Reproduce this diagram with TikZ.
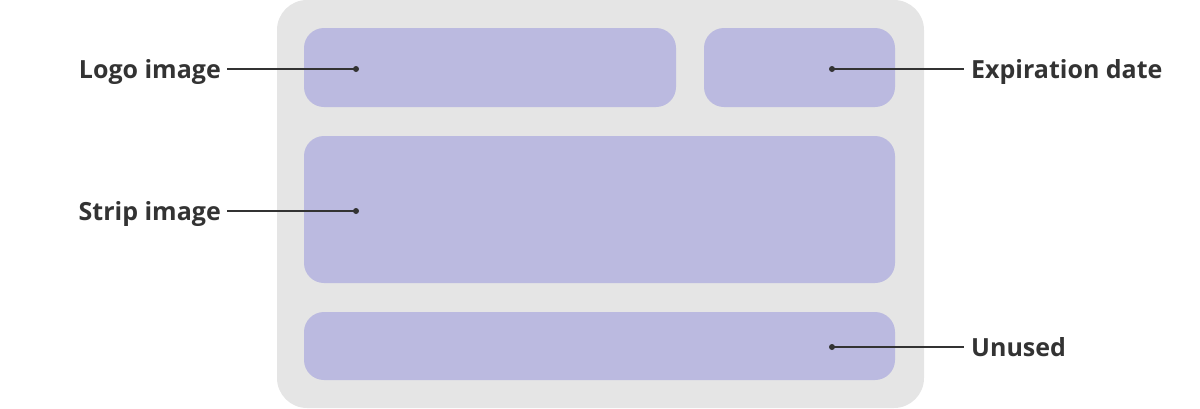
\documentclass[tikz,border=0pt]{standalone}
\usepackage{fontspec}
\setmainfont{Open Sans}
\definecolor{cardgray}{RGB}{229,229,229}
\definecolor{fieldblue}{RGB}{187,186,224}
\definecolor{labelgray}{RGB}{51,51,51}
\tikzset{
  field/.style={fill=fieldblue,rounded corners=20pt,inner sep=0pt},
  pin/.style={circle,fill=labelgray,inner sep=0pt,minimum size=6pt},
  fieldlabel/.style={text=labelgray,font=\fontsize{25}{30}\selectfont\bfseries,inner sep=0pt},
  leader/.style={labelgray,line width=1.6pt}
}
\begin{document}
\begin{tikzpicture}[x=1pt,y=-1pt]
      \useasboundingbox (0,0) rectangle (1200,408);
      % card
      \fill[cardgray,rounded corners=30pt] (277,0) rectangle (924,408);
      % fields
      \node[field,minimum width=372pt,minimum height=79pt] (logo) at (490,67.5) {};
      \node[field,minimum width=191pt,minimum height=79pt] (expiry) at (799.5,67.5) {};
      \node[field,minimum width=591pt,minimum height=147pt] (strip) at (599.5,209.5) {};
      \node[field,minimum width=591pt,minimum height=68pt] (unused) at (599.5,346) {};
      % pins
      \node[pin] (logopin) at (356,69) {};
      \node[pin] (expirypin) at (832,69) {};
      \node[pin] (strippin) at (356,211) {};
      \node[pin] (unusedpin) at (832,347) {};
      % labels
      \node[fieldlabel,anchor=base east] (logolabel) at (221,78) {Logo image};
      \node[fieldlabel,anchor=base west] (expirylabel) at (971,78) {Expiration date};
      \node[fieldlabel,anchor=base east] (striplabel) at (221,220) {Strip image};
      \node[fieldlabel,anchor=base west] (unusedlabel) at (971,356) {Unused};
      \draw[leader] (logolabel.east |- logopin) ++(6pt,0) -- (logopin.center);
      \draw[leader] (striplabel.east |- strippin) ++(6pt,0) -- (strippin.center);
      \draw[leader] (expirypin.center) -- ([xshift=-7pt]expirylabel.west |- expirypin);
      \draw[leader] (unusedpin.center) -- ([xshift=-7pt]unusedlabel.west |- unusedpin);
\end{tikzpicture}
\end{document}
